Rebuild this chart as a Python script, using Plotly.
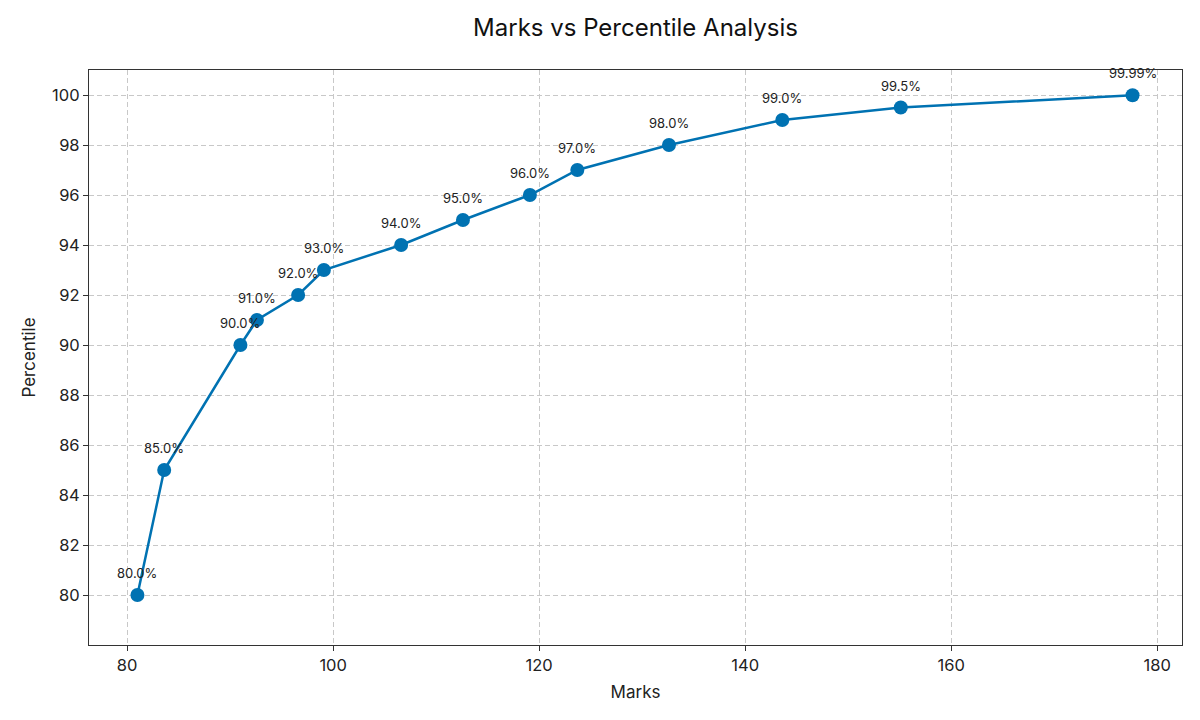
import plotly.graph_objects as go

marks = [81.0, 83.6, 91.0, 92.6, 96.6, 99.1, 106.6, 112.6, 119.1, 123.7, 132.6, 143.6, 155.1, 177.6]
percentile = [80.0, 85.0, 90.0, 91.0, 92.0, 93.0, 94.0, 95.0, 96.0, 97.0, 98.0, 99.0, 99.5, 99.99]
labels = ["80.0%", "85.0%", "90.0%", "91.0%", "92.0%", "93.0%", "94.0%", "95.0%",
          "96.0%", "97.0%", "98.0%", "99.0%", "99.5%", "99.99%"]
x_ticks = [80, 100, 120, 140, 160, 180]
y_ticks = [80, 82, 84, 86, 88, 90, 92, 94, 96, 98, 100]

FONT = "Inter"
fig = go.Figure()
fig.add_trace(go.Scatter(
    x=marks, y=percentile, mode="lines+markers",
    line=dict(color="#0072B2", width=2.5),
    marker=dict(color="#0072B2", size=14),
    showlegend=False, cliponaxis=False,
))
for xv, yv, t in zip(marks, percentile, labels):
    fig.add_annotation(x=xv, y=yv, xref="x", yref="y", text=t, showarrow=False,
                       yshift=22, font=dict(family=FONT, size=13, color="#222222"))

axis_common = dict(
    showline=True, linecolor="#333333", linewidth=1.2, mirror=True,
    ticks="outside", ticklen=5, tickcolor="#333333",
    showgrid=True, gridcolor="#C8C8C8", griddash="5px,3px", gridwidth=1,
    zeroline=False, tickfont=dict(family=FONT, size=16.5, color="#222222"),
)
fig.update_xaxes(range=[76.3, 182.4], tickvals=x_ticks,
                 title=dict(text="Marks", font=dict(family=FONT, size=17, color="#222222"), standoff=12),
                 **axis_common)
fig.update_yaxes(range=[78, 101], tickvals=y_ticks,
                 title=dict(text="Percentile", font=dict(family=FONT, size=17, color="#222222"), standoff=12),
                 **axis_common)
fig.update_layout(
    width=1184, height=704,
    margin=dict(l=81, r=10, t=62, b=67, autoexpand=False),
    plot_bgcolor="white", paper_bgcolor="white",
    title=dict(text="Marks vs Percentile Analysis", xref="paper", x=0.5, xanchor="center",
               y=1 - 20 / 704, yanchor="middle",
               font=dict(family=FONT, size=24, color="#111111")),
)
fig.write_html("out.html")
